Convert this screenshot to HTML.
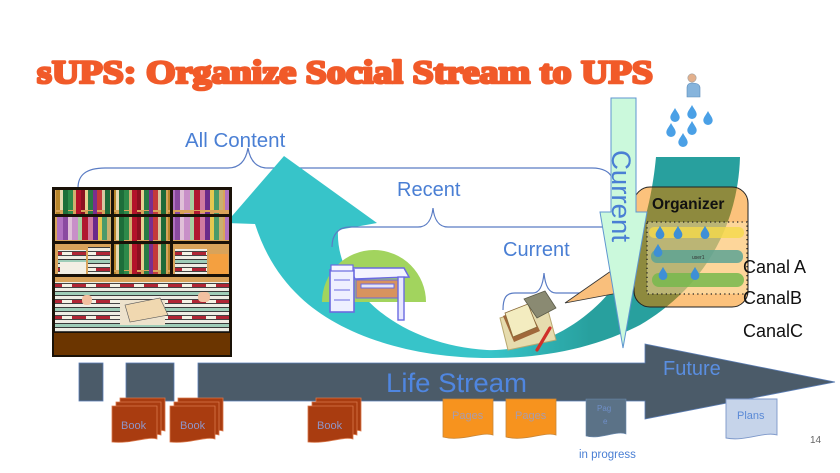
<!DOCTYPE html>
<html><head><meta charset="utf-8"><style>
html,body{margin:0;padding:0;background:#fff;}
svg{display:block;}
text{font-family:"Liberation Sans",sans-serif;}
</style></head><body>
<svg width="840" height="473" viewBox="0 0 840 473" xmlns="http://www.w3.org/2000/svg">
<defs>
<linearGradient id="tg" gradientUnits="userSpaceOnUse" x1="490" y1="0" x2="590" y2="0">
<stop offset="0" stop-color="#37c4c9"/><stop offset="1" stop-color="#28a09e"/>
</linearGradient>
<pattern id="vb" x="0" y="0" width="56" height="30" patternUnits="userSpaceOnUse">
<rect x="0" y="0" width="56" height="30" fill="#d9a35a"/>
<rect x="0" y="2" width="4" height="28" fill="#b8862a"/><rect x="4" y="5" width="3" height="25" fill="#e6d8b0"/>
<rect x="7" y="0" width="5" height="30" fill="#1d6e3a"/><rect x="12" y="1" width="5" height="29" fill="#2e8a4a"/>
<rect x="17" y="4" width="3" height="26" fill="#d0b070"/><rect x="20" y="0" width="5" height="30" fill="#b3122a"/>
<rect x="25" y="2" width="4" height="28" fill="#8b1020"/><rect x="29" y="5" width="3" height="25" fill="#e8d090"/>
<rect x="32" y="1" width="5" height="29" fill="#2a7a45"/><rect x="37" y="0" width="4" height="30" fill="#7a2f8f"/>
<rect x="41" y="2" width="5" height="28" fill="#c43a3a"/><rect x="46" y="5" width="3" height="25" fill="#d8c8a0"/>
<rect x="49" y="0" width="5" height="30" fill="#1f6a38"/>
</pattern>
<pattern id="pb" x="0" y="0" width="56" height="30" patternUnits="userSpaceOnUse">
<rect x="0" y="0" width="56" height="30" fill="#d9a35a"/>
<rect x="1" y="4" width="6" height="26" fill="#b070c0"/><rect x="7" y="2" width="5" height="28" fill="#8a4aa0"/>
<rect x="12" y="6" width="4" height="24" fill="#e0c0d8"/><rect x="16" y="3" width="6" height="27" fill="#c890c8"/>
<rect x="22" y="6" width="4" height="24" fill="#a8d0a0"/><rect x="26" y="1" width="6" height="29" fill="#b01830"/>
<rect x="32" y="3" width="5" height="27" fill="#d07aa0"/><rect x="37" y="2" width="5" height="28" fill="#6a2a8a"/>
<rect x="42" y="5" width="4" height="25" fill="#e6c850"/><rect x="46" y="3" width="5" height="27" fill="#4a9a6a"/>
<rect x="51" y="6" width="4" height="24" fill="#c8b070"/>
</pattern>
<pattern id="hb" x="0" y="0" width="24" height="16" patternUnits="userSpaceOnUse">
<rect width="24" height="16" fill="#efede4"/>
<rect y="3" width="24" height="1" fill="#3a3a3a"/><rect y="4" width="24" height="3" fill="#9fcdb8"/>
<rect y="7" width="24" height="1" fill="#3a3a3a"/><rect y="11" width="24" height="1" fill="#444"/>
<rect y="12" width="14" height="3" fill="#b02535"/><rect x="14" y="12" width="10" height="3" fill="#f4f1e4"/>
<rect y="15" width="24" height="1" fill="#444"/>
</pattern>
<clipPath id="org"><rect x="634" y="187" width="114" height="120" rx="16"/></clipPath>
<symbol id="drop" viewBox="-6 -8 12 16" overflow="visible">
<path d="M0,-7 C2,-3 5,0 5,3 A5,5 0 1 1 -5,3 C-5,0 -2,-3 0,-7 Z"/>
</symbol>
</defs>

<!-- Title -->
<text x="37" y="83" font-family="Liberation Serif" font-weight="bold" font-size="33" fill="#f15a29" stroke="#f15a29" stroke-width="2.6" stroke-linejoin="round" textLength="616" lengthAdjust="spacingAndGlyphs" style="font-family:'Liberation Serif',serif">sUPS: Organize Social Stream to UPS</text>

<!-- All Content brace -->
<path d="M78,188 C78,175 86,168 105,168 L228,168 C240,168 246,160 248,148 C250,160 256,168 268,168 L592,168 C603,168 610,172 612,178" fill="none" stroke="#5a7cc4" stroke-width="1.2"/>
<text x="185" y="147" font-size="20.5" fill="#4a7fd4">All Content</text>

<!-- Teal curved arrow -->
<path d="M740,157 C738,230 700,290 640,325 C590,350 540,358 490,358 C410,358 340,335 300,297 C280,278 265,255 255,224 L226,223 L284,156 L377,223 L338,230 C335,290 400,345 487,350 C540,352 590,320 615,285 C640,250 652,200 656,157 Z" fill="url(#tg)"/>

<!-- Recent brace -->
<path d="M332,247 C332,235 338,227 350,227 L418,227 C428,227 432,218 433,208 C434,218 438,227 448,227 L603,227" fill="none" stroke="#5a7cc4" stroke-width="1.2"/>
<text x="397" y="196" font-size="20" fill="#4a7fd4">Recent</text>

<!-- Current brace (lower) -->
<path d="M503,310 C503,298 506,293 515,293 L533,293 C540,293 543,284 544,273 C545,284 548,293 556,293 L605,293" fill="none" stroke="#5a7cc4" stroke-width="1.2"/>
<text x="503" y="256" font-size="20" fill="#4a7fd4">Current</text>

<!-- Bookshelf -->
<rect x="52" y="187" width="180" height="170" fill="#1a1208"/>
<rect x="55" y="190" width="56" height="24" fill="url(#vb)"/>
<rect x="114" y="190" width="56" height="24" fill="url(#vb)"/>
<rect x="173" y="190" width="56" height="24" fill="url(#pb)"/>
<rect x="55" y="217" width="56" height="24" fill="url(#pb)"/>
<rect x="114" y="217" width="56" height="24" fill="url(#vb)"/>
<rect x="173" y="217" width="56" height="24" fill="url(#pb)"/>
<rect x="55" y="244" width="56" height="30" fill="#d9a35a"/>
<rect x="58" y="250" width="28" height="24" fill="url(#hb)"/>
<rect x="60" y="262" width="26" height="12" fill="#f3efe4"/>
<rect x="88" y="247" width="22" height="27" fill="url(#hb)"/>
<rect x="114" y="244" width="56" height="30" fill="url(#vb)"/>
<rect x="173" y="244" width="56" height="30" fill="#d9a35a"/>
<rect x="175" y="249" width="32" height="25" fill="url(#hb)"/>
<rect x="209" y="254" width="19" height="20" fill="#f4a040"/>
<rect x="55" y="277" width="174" height="55" fill="#d9a35a"/>
<rect x="55" y="282" width="174" height="50" fill="url(#hb)"/>
<rect x="120" y="300" width="45" height="25" fill="#ede2cc"/>
<path d="M125,305 L160,298 L168,315 L130,322 Z" fill="#f0d8b0" stroke="#555" stroke-width="0.6"/>
<rect x="82" y="295" width="10" height="10" rx="4" fill="#f2c0a0"/>
<rect x="198" y="292" width="12" height="10" rx="4" fill="#f2c0a0"/>
<rect x="54" y="333" width="176" height="22" fill="#6b3500"/>

<!-- Desk clip art -->
<path d="M322,302 A52,52 0 0 1 426,302 Z" fill="#a2d45e"/>
<path d="M350,268 L404,268 L409,277 L355,279 Z" fill="#f4f4ff" stroke="#6a6ae0" stroke-width="1.5"/>
<rect x="356" y="280" width="43" height="18" fill="#d8935e" stroke="#6a6ae0" stroke-width="1"/>
<rect x="361" y="284" width="33" height="4" fill="#e6e6f6" stroke="#6a6ae0" stroke-width="1"/>
<rect x="398" y="277" width="6" height="43" fill="#e8e8ff" stroke="#6a6ae0" stroke-width="1.4"/>
<rect x="330" y="270" width="24" height="42" fill="#eef0ff" stroke="#6a6ae0" stroke-width="1.6"/>
<path d="M334,280 H350 M334,290 H350 M334,300 H350" stroke="#6a6ae0" stroke-width="1"/>
<rect x="331" y="265" width="22" height="6" fill="#f6f6ff" stroke="#6a6ae0" stroke-width="1.2"/>

<!-- Book clip art -->
<path d="M500,318 L546,303 L556,340 L508,350 Z" fill="#e6dcae" stroke="#b8a870" stroke-width="1"/>
<path d="M503,316 L528,306 L540,331 L514,342 Z" fill="#a0683a"/>
<path d="M505,313 L528,304 L537,327 L513,337 Z" fill="#f3ecc0" stroke="#8a6a3a" stroke-width="0.8"/>
<path d="M524,299 L545,291 L556,308 L537,318 Z" fill="#8a8a72" stroke="#5a5a48" stroke-width="0.8"/>
<path d="M537,350 L550,328" stroke="#d0302a" stroke-width="3.2" stroke-linecap="round"/>

<!-- Callout wedge -->
<path d="M634,255 L565,303 L634,290 Z" fill="#f9bf7c" stroke="#333" stroke-width="0.8"/>

<!-- Organizer -->
<rect x="634" y="187" width="114" height="120" rx="16" fill="#fcc27c"/>
<path d="M740,157 C738,230 700,290 640,325 C590,350 540,358 490,358 L487,350 C540,352 590,320 615,285 C640,250 652,200 656,157 Z" fill="#8e8a3e" clip-path="url(#org)"/>
<rect x="647" y="222" width="100" height="72" fill="#fff4c8" fill-opacity="0.4" stroke="#222" stroke-width="1.3" stroke-dasharray="1.3 3.2"/>
<rect x="649" y="227" width="95" height="11" rx="5" fill="#f5d94a" opacity="0.8"/>
<rect x="651" y="250" width="92" height="13" rx="6" fill="#5da394" opacity="0.85"/>
<rect x="652" y="273" width="92" height="14" rx="7" fill="#77b84e" opacity="0.85"/>
<text x="692" y="259" font-size="5" fill="#333">user1</text>
<g fill="#3e8fd6">
<use href="#drop" x="654" y="225" width="12" height="14"/>
<use href="#drop" x="672" y="225" width="12" height="14"/>
<use href="#drop" x="699" y="225" width="12" height="14"/>
<use href="#drop" x="652" y="243" width="12" height="14"/>
<use href="#drop" x="657" y="266" width="12" height="14"/>
<use href="#drop" x="689" y="266" width="12" height="14"/>
</g>
<rect x="634" y="187" width="114" height="120" rx="16" fill="none" stroke="#222" stroke-width="1"/>
<text x="652" y="209" font-size="15.5" font-weight="bold" fill="#111">Organizer</text>

<!-- Canal labels -->
<text x="743" y="273" font-size="18" fill="#111">Canal A</text>
<text x="743" y="304" font-size="18" fill="#111">CanalB</text>
<text x="743" y="337" font-size="18" fill="#111">CanalC</text>

<!-- Current vertical arrow -->
<path d="M611,98 L636,98 L636,212 L647,212 L623,348 L600,212 L611,212 Z" fill="#cbf9dc" stroke="#5f96d0" stroke-width="1"/>
<text transform="translate(612,150) rotate(90)" font-size="27" fill="#4a7fd4" textLength="92" lengthAdjust="spacingAndGlyphs">Current</text>

<!-- Person and drops -->
<circle cx="692" cy="78" r="4.2" fill="#e3b08c" stroke="#a0a0a0" stroke-width="0.6"/>
<path d="M687,97 L687,88 Q687,83 692,83 Q700,83 700,88 L700,97 Z" fill="#86b4dc" stroke="#5a8ab8" stroke-width="0.6"/>
<g fill="#4aa0e6">
<use href="#drop" x="669" y="107" width="12" height="15"/>
<use href="#drop" x="686" y="104" width="12" height="15"/>
<use href="#drop" x="702" y="110" width="12" height="15"/>
<use href="#drop" x="665" y="122" width="12" height="15"/>
<use href="#drop" x="686" y="120" width="12" height="15"/>
<use href="#drop" x="677" y="132" width="12" height="15"/>
</g>

<!-- Life Stream bar -->
<g fill="#4b5b69" stroke="#5a7db5" stroke-width="0.8">
<rect x="79" y="363" width="24" height="38"/>
<rect x="126" y="363" width="48" height="38"/>
<path d="M198,363 L645,363 L645,344 L835,382 L645,419 L645,401 L198,401 Z"/>
</g>
<text x="386" y="392" font-size="27" fill="#4f86e0" textLength="141" lengthAdjust="spacingAndGlyphs">Life Stream</text>
<text x="663" y="375" font-size="20" fill="#5a8ee0">Future</text>

<!-- Book docs -->
<g stroke="#d9774a" stroke-width="0.8" fill="#a93c10">
<path d="M120,398 H165 V431 C155,428 140,436 120,434 Z"/>
<path d="M116,402 H161 V435 C151,432 136,440 116,438 Z"/>
<path d="M112,406 H157 V439 C147,436 132,444 112,442 Z"/>
<path d="M178,398 H223 V431 C213,428 198,436 178,434 Z"/>
<path d="M174,402 H219 V435 C209,432 194,440 174,438 Z"/>
<path d="M170,406 H215 V439 C205,436 190,444 170,442 Z"/>
<path d="M316,398 H361 V431 C351,428 336,436 316,434 Z"/>
<path d="M312,402 H357 V435 C347,432 332,440 312,438 Z"/>
<path d="M308,406 H353 V439 C343,436 328,444 308,442 Z"/>
</g>
<g font-size="11" fill="#8f95c8">
<text x="121" y="429">Book</text>
<text x="180" y="429">Book</text>
<text x="317" y="429">Book</text>
</g>

<!-- Pages docs -->
<g fill="#f7931e" stroke="#c8873a" stroke-width="0.8">
<path d="M443,399 H493 V435 C482,431 462,442 443,437 Z"/>
<path d="M506,399 H556 V435 C545,431 525,442 506,437 Z"/>
</g>
<g font-size="11" fill="#a99cae">
<text x="452" y="419">Pages</text>
<text x="515" y="419">Pages</text>
</g>
<path d="M586,399 H626 V434 C617,430 600,440 586,436 Z" fill="#5b7287" stroke="#6a8ab0" stroke-width="0.6"/>
<text x="597" y="411" font-size="8" fill="#6f8fc8">Pag</text>
<text x="603" y="424" font-size="8" fill="#6f8fc8">e</text>
<text x="579" y="458" font-size="11.5" fill="#4a7fd4">in progress</text>

<!-- Plans -->
<path d="M726,399 H777 V435 C765,431 745,442 726,438 Z" fill="#c6d4ea" stroke="#7c97c9" stroke-width="0.9"/>
<text x="737" y="419" font-size="11" fill="#5b8ad6">Plans</text>

<text x="810" y="443" font-size="10" fill="#666">14</text>
</svg>
</body></html>
